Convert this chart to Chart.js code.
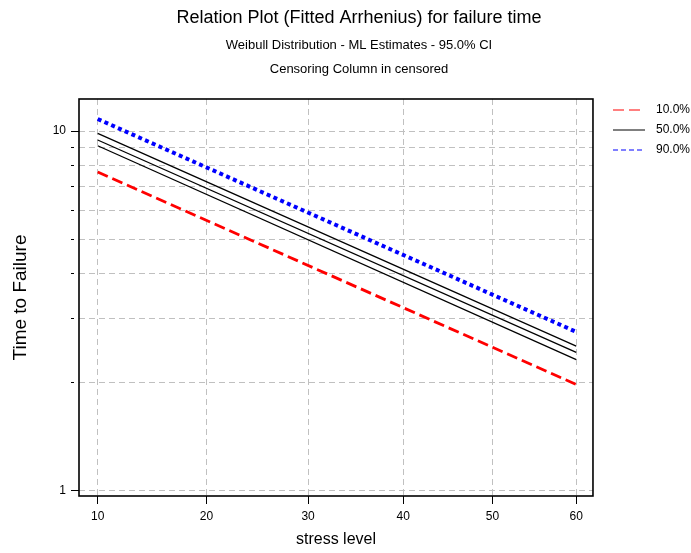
<!DOCTYPE html>
<html lang="en">
<head>
  <meta charset="UTF-8">
  <title>Relation Plot (Fitted Arrhenius)</title>
  <script src="https://cdn.jsdelivr.net/npm/chart.js"></script>
  <style>
    * {
      margin: 0;
      padding: 0;
    }

    body {
      background-color: white;
      width: 691px;
      height: 553px;
      overflow: hidden;
    }
  </style>
</head>
<body>

<canvas id="relationChart" width="691" height="553"></canvas>

<script>
  // data (stress level in °C, time to failure)
  const stressLevels = [10, 60];
  const p10 = [7.69, 1.97];
  const p50 = [9.44, 2.42];
  const p50Lower = [9.10, 2.31];
  const p50Upper = [9.85, 2.52];
  const p90 = [10.80, 2.76];

  const xTicks = [10, 20, 30, 40, 50, 60];
  const yTicks = [1, 2, 3, 4, 5, 6, 7, 8, 9, 10];
  const yTickLabels = ['1', '', '', '', '', '', '', '', '', '10'];

  const FONT = "'Liberation Sans', Arial, sans-serif";

  // x axis on an Arrhenius scale: position follows -1/(T + 273.15)
  class ArrheniusScale extends Chart.LinearScale {
    static id = 'arrhenius';
    static defaults = Chart.LinearScale.defaults;

    toInv(v) {
      return -1 / (v + 273.15);
    }

    getPixelForValue(value) {
      const a = this.toInv(this.min);
      const b = this.toInv(this.max);
      return this.getPixelForDecimal((this.toInv(value) - a) / (b - a));
    }

    getValueForPixel(pixel) {
      const a = this.toInv(this.min);
      const b = this.toInv(this.max);
      const u = a + this.getDecimalForPixel(pixel) * (b - a);
      return -1 / u - 273.15;
    }
  }
  Chart.register(ArrheniusScale);

  function points(ys) {
    return stressLevels.map((x, i) => ({ x: x, y: ys[i] }));
  }

  // small legend swatches: a thin line with some empty room after it
  function swatch(color, dash) {
    const c = document.createElement('canvas');
    c.width = 37;
    c.height = 6;
    const g = c.getContext('2d');
    g.strokeStyle = color;
    g.lineWidth = 1;
    g.setLineDash(dash);
    g.beginPath();
    g.moveTo(0, 3);
    g.lineTo(dash.length ? 29 : 32, 3);
    g.stroke();
    return c;
  }
  const swatches = [
    swatch('#ff0000', [11, 5]),
    swatch('#000000', []),
    swatch('#0000ff', [5, 3])
  ];

  // box round the plot area
  const frame = {
    id: 'frame',
    afterDraw(chart) {
      const { ctx, chartArea: a } = chart;
      ctx.save();
      ctx.strokeStyle = '#000';
      ctx.lineWidth = 1.6;
      ctx.strokeRect(a.left, a.top, a.right - a.left, a.bottom - a.top);
      ctx.restore();
    }
  };

  // titles are centred a bit right of the canvas middle, legend sits a bit off the plot
  const nudge = {
    id: 'nudge',
    afterLayout(chart) {
      chart.boxes.forEach(b => {
        if (b.options && b.options.text !== undefined && b.options.position === 'top') {
          b.left += 15;
          b.right += 15;
        }
      });
      chart.legend.left += 12;
      chart.legend.right += 12;
      chart.legend.top -= 3;
      chart.legend.bottom -= 3;
    }
  };

  Chart.defaults.color = '#000';
  Chart.defaults.font.family = FONT;

  const ctx = document.getElementById('relationChart').getContext('2d');
  new Chart(ctx, {
    type: 'line',
    data: {
      datasets: [
        { label: '10.0%', data: points(p10), borderColor: '#ff0000', borderWidth: 2.8, borderDash: [11, 5] },
        { label: '50.0%', data: points(p50), borderColor: '#000000', borderWidth: 1.3 },
        { label: '90.0%', data: points(p90), borderColor: '#0000ff', borderWidth: 4, borderDash: [4, 3.4] },
        { label: 'lower', data: points(p50Lower), borderColor: '#000000', borderWidth: 1.3 },
        { label: 'upper', data: points(p50Upper), borderColor: '#000000', borderWidth: 1.3 }
      ]
    },
    options: {
      responsive: false,
      animation: false,
      elements: {
        point: { radius: 0 },
        line: { tension: 0, fill: false }
      },
      layout: {
        padding: { left: 0, right: 3, top: 0, bottom: 0 }
      },
      plugins: {
        title: {
          display: true,
          text: 'Relation Plot (Fitted Arrhenius) for failure time',
          color: '#000',
          font: { size: 18, weight: 'normal', lineHeight: 1.2 },
          padding: { top: 7.2, bottom: 4.2 }
        },
        subtitle: {
          display: true,
          text: ['Weibull Distribution - ML Estimates - 95.0% CI', 'Censoring Column in censored'],
          color: '#000',
          font: { size: 13, lineHeight: 1.846 },
          padding: { top: 0, bottom: 18 }
        },
        legend: {
          position: 'right',
          align: 'start',
          fullSize: false,
          labels: {
            usePointStyle: true,
            pointStyleWidth: 37,
            padding: 8,
            color: '#000',
            font: { size: 12 },
            generateLabels(chart) {
              const items = Chart.defaults.plugins.legend.labels.generateLabels(chart);
              return items
                .filter(item => item.datasetIndex < 3)
                .map(item => Object.assign(item, { pointStyle: swatches[item.datasetIndex] }));
            }
          }
        },
        tooltip: { enabled: false }
      },
      scales: {
        x: {
          type: 'arrhenius',
          min: 8.35,
          max: 62.07,
          afterBuildTicks(scale) {
            scale.ticks = xTicks.map(v => ({ value: v }));
          },
          afterFit(scale) {
            scale.height = 57;
          },
          ticks: {
            padding: 5,
            maxRotation: 0,
            autoSkip: false,
            font: { size: 12 },
            callback: v => String(v)
          },
          grid: {
            color: '#c0c0c0',
            tickColor: '#000',
            tickLength: 8,
            tickBorderDash: []
          },
          border: { display: false, dash: [6, 4] },
          title: {
            display: true,
            text: 'stress level',
            font: { size: 16, lineHeight: 1.2 },
            padding: { top: 0, bottom: 3.4 }
          }
        },
        y: {
          type: 'logarithmic',
          min: 0.964,
          max: 12.28,
          afterBuildTicks(scale) {
            scale.ticks = yTicks.map(v => ({ value: v }));
          },
          afterFit(scale) {
            scale.width = 79;
          },
          ticks: {
            padding: 5,
            autoSkip: false,
            font: { size: 12 },
            callback: (v, i) => yTickLabels[i]
          },
          grid: {
            color: '#c0c0c0',
            tickColor: '#000',
            tickLength: 8,
            tickBorderDash: c => (yTickLabels[c.index] ? [] : [3, 20])
          },
          border: { display: false, dash: [6, 4] },
          title: {
            display: true,
            text: 'Time to Failure',
            font: { size: 19, lineHeight: 1.2 },
            padding: { top: 9.6, bottom: 0 }
          }
        }
      }
    },
    plugins: [frame, nudge]
  });
</script>

</body>
</html>
